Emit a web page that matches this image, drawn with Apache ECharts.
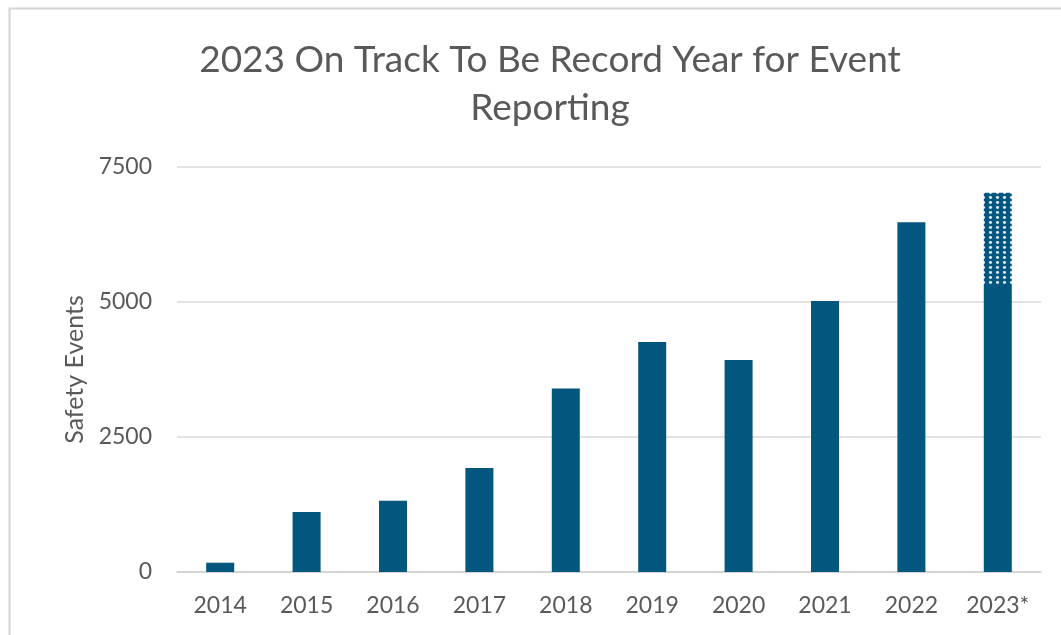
<!DOCTYPE html>
<html lang="en">
<head>
    <meta charset="utf-8">
    <title>Safety Events</title>
    <script src="https://cdn.jsdelivr.net/npm/echarts@6/dist/echarts.min.js"></script>
    <style>
        html, body { margin: 0; padding: 0; background: #fff; }
        #main { width: 1061px; height: 635px; }
    </style>
</head>
<body>
    <div id="main"></div>
    <script>
        var years = ['2014', '2015', '2016', '2017', '2018', '2019', '2020', '2021', '2022', '2023*'];
        // reported events per year
        var reported = [172, 1110, 1320, 1925, 3400, 4260, 3925, 5020, 6475, 5295];
        // projected remainder for 2023 (dotted part)
        var projected = ['-', '-', '-', '-', '-', '-', '-', '-', '-', 1730];
        var yTicks = [0, 2500, 5000, 7500];

        var barColor = '#03567d';

        // dotted fill for the projected part
        function dotPattern() {
            var c = document.createElement('canvas');
            c.width = 7;
            c.height = 5;
            var ctx = c.getContext('2d');
            ctx.fillStyle = barColor;
            ctx.fillRect(0, 0, 7, 5);
            ctx.fillStyle = '#dfeaf2';
            ctx.beginPath();
            ctx.ellipse(3.5, 2.5, 1.6, 1.4, 0, 0, Math.PI * 2);
            ctx.fill();
            return c;
        }

        var myChart = echarts.init(document.getElementById('main'));
        var option = {
            backgroundColor: '#fff',
            animation: false,
            title: {
                text: '2023 On Track To Be Record Year for Event\nReporting',
                left: 545,
                textAlign: 'center',
                top: 31,
                textStyle: {
                    fontFamily: 'Lato',
                    fontWeight: 'normal',
                    fontSize: 37,
                    color: '#595959',
                    lineHeight: 48
                }
            },
            graphic: [{
                type: 'rect',
                shape: { x: 9.5, y: 8.5, width: 1100, height: 700 },
                style: { fill: 'none', stroke: '#d4d4d4', lineWidth: 2 },
                silent: true
            }],
            grid: {
                left: 177,
                right: 20,
                top: 167,
                bottom: 63
            },
            xAxis: {
                type: 'category',
                data: years,
                axisLine: { lineStyle: { color: '#d0d0d0', width: 1.5 } },
                axisTick: { show: false },
                axisLabel: {
                    color: '#595959',
                    fontFamily: 'Lato',
                    fontSize: 23,
                    margin: 22
                }
            },
            yAxis: {
                type: 'value',
                min: yTicks[0],
                max: yTicks[yTicks.length - 1],
                interval: 2500,
                name: 'Safety Events',
                nameLocation: 'middle',
                nameGap: 90,
                nameMoveOverlap: false,
                nameTextStyle: {
                    color: '#595959',
                    fontFamily: 'Lato',
                    fontSize: 25
                },
                axisLine: { show: false },
                axisTick: { show: false },
                axisLabel: {
                    color: '#595959',
                    fontFamily: 'Lato',
                    fontSize: 23,
                    margin: 25,
                    formatter: function (v) { return String(v); }
                },
                splitLine: { lineStyle: { color: '#d9d9d9', width: 1.5 } }
            },
            series: [
                {
                    name: 'Reported',
                    type: 'bar',
                    stack: 'ev',
                    barWidth: 28,
                    itemStyle: { color: barColor },
                    data: reported
                },
                {
                    name: 'Projected',
                    type: 'bar',
                    stack: 'ev',
                    barWidth: 28,
                    itemStyle: {
                        color: { image: dotPattern(), repeat: 'repeat' }
                    },
                    data: projected
                }
            ]
        };
        myChart.setOption(option);
    </script>
</body>
</html>
